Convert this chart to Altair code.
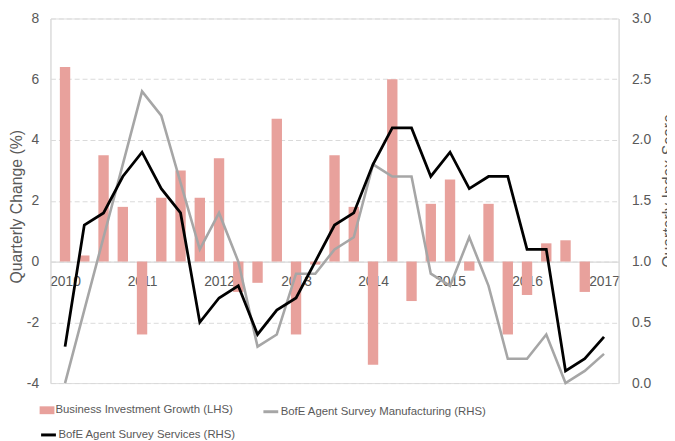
import altair as alt
import pandas as pd

quarters = [
    "2010 Q1", "2010 Q2", "2010 Q3", "2010 Q4",
    "2011 Q1", "2011 Q2", "2011 Q3", "2011 Q4",
    "2012 Q1", "2012 Q2", "2012 Q3", "2012 Q4",
    "2013 Q1", "2013 Q2", "2013 Q3", "2013 Q4",
    "2014 Q1", "2014 Q2", "2014 Q3", "2014 Q4",
    "2015 Q1", "2015 Q2", "2015 Q3", "2015 Q4",
    "2016 Q1", "2016 Q2", "2016 Q3", "2016 Q4",
    "2017 Q1",
]
year_labels = ["2010", "2011", "2012", "2013", "2014", "2015", "2016", "2017"]

business_investment = [6.4, 0.2, 3.5, 1.8, -2.4, 2.1, 3.0, 2.1, 3.4, -1.0, -0.7, 4.7,
                       -2.4, -0.1, 3.5, 1.8, -3.4, 6.0, -1.3, 1.9, 2.7, -0.3, 1.9, -2.4,
                       -1.1, 0.6, 0.7, -1.0, None]
manufacturing = [0.0, 0.6, 1.2, 1.8, 2.4, 2.2, 1.65, 1.1, 1.4, 1.0, 0.3, 0.4,
                 0.9, 0.9, 1.1, 1.2, 1.8, 1.7, 1.7, 0.9, 0.8, 1.2, 0.8, 0.2,
                 0.2, 0.4, 0.0, 0.1, 0.24]
services = [0.3, 1.3, 1.4, 1.7, 1.9, 1.6, 1.4, 0.5, 0.7, 0.8, 0.4, 0.6,
            0.7, 1.0, 1.3, 1.4, 1.8, 2.1, 2.1, 1.7, 1.9, 1.6, 1.7, 1.7,
            1.1, 1.1, 0.1, 0.2, 0.38]

left_ticks = [-4, -2, 0, 2, 4, 6, 8]
right_ticks = [0.0, 0.5, 1.0, 1.5, 2.0, 2.5, 3.0]

BI_NAME = "Business Investment Growth (LHS)"
MFG_NAME = "BofE Agent Survey Manufacturing (RHS)"
SVC_NAME = "BofE Agent Survey Services (RHS)"

BAR_COLOR = "#E8A19C"
MFG_COLOR = "#A6A6A6"
SVC_COLOR = "#000000"
TEXT = "#595959"
GRID = "#D9D9D9"
FONT = "Liberation Sans"

df = pd.DataFrame({
    "qi": list(range(len(quarters))),
    "quarter": quarters,
    "bi": business_investment,
    "mfg": manufacturing,
    "svc": services,
})

label_array = "[" + ",".join("'%s'" % y for y in year_labels) + "]"

x_enc = alt.X(
    "qi:Q",
    scale=alt.Scale(domain=[-0.5, len(quarters) - 0.5], nice=False, zero=False),
    axis=alt.Axis(
        values=[i for i, q in enumerate(quarters) if q.endswith("Q1")],
        labelExpr=label_array + "[round(datum.value / 4)]",
        orient="bottom", offset=-123, grid=False, ticks=False, tickSize=0,
        domain=True, domainColor=GRID, domainWidth=1.2,
        labelFontSize=14, labelColor=TEXT, labelPadding=13, labelFont=FONT,
        title=None,
    ),
)

bars = alt.Chart(df).transform_filter("isValid(datum.bi)").transform_calculate(
    s="'" + BI_NAME + "'"
).mark_bar(size=10.5).encode(
    x=x_enc,
    y=alt.Y(
        "bi:Q",
        scale=alt.Scale(domain=[-4, 8], nice=False),
        axis=alt.Axis(
            values=left_ticks, orient="left", grid=True, gridColor=GRID, gridDash=[5, 3],
            gridWidth=1, ticks=False, tickSize=0, domain=True, domainColor=GRID,
            labelFontSize=14, labelColor=TEXT, labelPadding=12, labelFont=FONT,
            labelExpr="datum.value < 0 ? '-' + (-datum.value) : datum.label",
            title="Quarterly Change (%)", titleFontSize=16, titleColor=TEXT,
            titleFontWeight="normal", titleFont=FONT, titlePadding=2, titleY=190,
        ),
    ),
    color=alt.Color(
        "s:N",
        scale=alt.Scale(domain=[BI_NAME], range=[BAR_COLOR]),
        legend=alt.Legend(
            orient="none", legendX=-11, legendY=389, title=None, padding=0,
            symbolType="M-1,-0.53H1V0.53H-1Z", symbolSize=225, symbolStrokeWidth=0,
            labelFontSize=11.5, labelColor=TEXT, labelOffset=1, labelFont=FONT,
            labelLimit=500,
        ),
    ),
)

right_axis = alt.Axis(
    values=right_ticks, orient="right", format=".1f", grid=False, ticks=False, tickSize=0,
    domain=True, domainColor=GRID, labelFontSize=14, labelColor=TEXT, labelPadding=13,
    labelFont=FONT, title="Quarterly Index Score", titleFontSize=16, titleColor=TEXT,
    titleFontWeight="normal", titleFont=FONT, titleAngle=270, titleBaseline="top",
    titlePadding=10, titleY=174,
)
right_scale = alt.Scale(domain=[0, 3], nice=False)


def line_layer(field, name, color, width, lx, ly):
    return alt.Chart(df).transform_calculate(s="'" + name + "'").mark_line(
        strokeWidth=width
    ).encode(
        x=x_enc,
        y=alt.Y(field + ":Q", scale=right_scale, axis=right_axis),
        color=alt.Color(
            "s:N",
            scale=alt.Scale(domain=[name], range=[color]),
            legend=alt.Legend(
                orient="none", legendX=lx, legendY=ly, title=None, padding=0,
                symbolType="stroke", symbolSize=225, symbolStrokeWidth=3,
                labelFontSize=11.5, labelColor=TEXT, labelOffset=1, labelFont=FONT,
                labelLimit=500,
            ),
        ),
    )


mfg_line = line_layer("mfg", MFG_NAME, MFG_COLOR, 2.6, 214, 389)
svc_line = line_layer("svc", SVC_NAME, SVC_COLOR, 2.8, -11, 412.5)

lines = alt.layer(mfg_line, svc_line).resolve_scale(color="independent")

chart = alt.layer(bars, lines).resolve_scale(
    y="independent", color="independent"
).properties(
    width=575, height=369,
    autosize=alt.AutoSizeParams(type="none"),
    padding={"left": 43, "top": 8, "right": 49, "bottom": 56},
).configure_view(stroke=None).configure(font=FONT)

chart.save("out.html", embed_options={"renderer": "svg", "actions": False})
